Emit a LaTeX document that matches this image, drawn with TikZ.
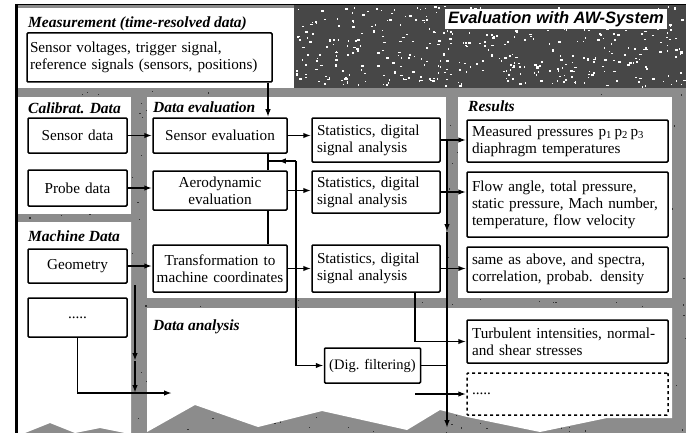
\documentclass[tikz,border=0pt]{standalone}
\usepackage{fontspec}
\setmainfont{Liberation Serif}
\newfontfamily\awsans{Liberation Sans}
\usetikzlibrary{arrows.meta,calc}
\colorlet{texmid}{black!45}
\colorlet{texdark}{black!72}
\begin{document}
\begin{tikzpicture}[x=1pt,y=-1pt,
  txt/.style={font=\fontsize{15.2}{17}\selectfont},
  box/.style={draw,line width=1.5pt,rounded corners=1pt,inner xsep=5pt,inner ysep=2pt,txt,fill=white},
  paneltitle/.style={anchor=west,inner sep=0pt,font=\fontsize{15.5}{17}\selectfont\bfseries\itshape},
  conn/.style={line width=1.6pt},
  arr/.style={conn,-{Latex[length=8pt,width=5.5pt]}}
]
\useasboundingbox (0,0) rectangle (687,433);
% textured background
\fill[texmid] (15,4) rectangle (686,433);
\fill[texdark] (294,4) rectangle (686,88);
\pgfmathsetseed{4711}
\foreach \i in {1,...,420}{
  \pgfmathsetmacro{\rx}{296+rnd*388}
  \pgfmathsetmacro{\ry}{6+rnd*80}
  \pgfmathsetmacro{\rw}{0.8+rnd*2.2}
  \fill[white] (\rx,\ry) rectangle ++(\rw,{0.8+rnd*1.6});
}
\foreach \i in {1,...,500}{
  \pgfmathsetmacro{\rx}{15+rnd*671}
  \pgfmathsetmacro{\ry}{88+rnd*345}
  \fill[black!80] (\rx,\ry) rectangle ++(1.2,1.2);
}
% white panels
\fill[white] (18,8) rectangle (294,88);
\fill[white] (18,97) rectangle (131,214);
\fill[white] (18,222) -- (131,222) -- (131,433) -- (125,433) -- (100,428) -- (75,433) -- (50,423) -- (25,433) -- (18,433) -- cycle;
\fill[white] (147,97) rectangle (446,298);
\fill[white] (458,97) rectangle (672,298);
\fill[white] (147,308) -- (672,308) -- (672,418) -- (607,418) -- (540,432) -- (467,417) -- (440,410) -- (407,430) -- (322,411) -- (258,427) -- (195,405) -- (147,432) -- cycle;
% outer borders
\draw[line width=3pt] (16.5,4) -- (16.5,433);
\draw[line width=1.2pt] (15,4.5) -- (686,4.5);

% panel titles
\node[paneltitle] (tmeas) at (28,24) {Measurement (time-resolved data)};
\node[paneltitle] (tcal) at (28,108) {Calibrat. Data};
\node[paneltitle] (teval) at (153,107) {Data evaluation};
\node[paneltitle] (tres) at (468,106) {Results};
\node[paneltitle] (tmach) at (28,236) {Machine Data};
\node[paneltitle] (tana) at (153,327) {Data analysis};
\node[fill=white,inner xsep=3pt,inner ysep=2pt,font=\fontsize{16.5}{18}\selectfont\awsans\bfseries\itshape] (taw) at (556,19) {Evaluation with AW-System};

% boxes
\node[box,inner xsep=3pt,text width=239pt,minimum height=49pt,align=left] (meas) at (149.5,57.5) {Sensor voltages, trigger signal,\\reference signals (sensors, positions)};
\node[box,text width=89pt,minimum height=35pt,align=center] (sdata) at (77.5,135.5) {Sensor data};
\node[box,text width=89pt,minimum height=36pt,align=center] (pdata) at (77.5,188) {Probe data};
\node[box,text width=89pt,minimum height=34pt,align=center] (geom) at (77.5,266) {Geometry};
\node[box,text width=89pt,minimum height=39pt,align=center] (dotsA) at (77.5,317.5) {.....};
\node[box,text width=124pt,minimum height=35pt,align=center] (seval) at (220,135.5) {Sensor evaluation};
\node[box,text width=124pt,minimum height=39pt,align=center] (aero) at (220,190.5) {Aerodynamic\\evaluation};
\node[box,inner xsep=1pt,text width=132pt,minimum height=47pt,align=center] (trans) at (220,268.5) {Transformation to\\machine coordinates};
\node[box,text width=118pt,minimum height=44pt,align=left] (statA) at (376,140) {Statistics, digital\\signal analysis};
\node[box,text width=118pt,minimum height=42pt,align=left] (statB) at (376,192) {Statistics, digital\\signal analysis};
\node[box,text width=118pt,minimum height=47pt,align=left] (statC) at (376,268.5) {Statistics, digital\\signal analysis};
\node[box,text width=191pt,minimum height=42pt,align=left] (resA) at (567.5,141) {Measured pressures p\textsubscript{1}\,p\textsubscript{2}\,p\textsubscript{3}\\diaphragm temperatures};
\node[box,text width=191pt,minimum height=65pt,align=left] (resB) at (567.5,204.5) {Flow angle, total pressure,\\static pressure, Mach number,\\temperature, flow velocity};
\node[box,text width=191pt,minimum height=45pt,align=left] (resC) at (567.5,269.5) {same as above, and spectra,\\correlation, probab. density};
\node[box,text width=191pt,minimum height=43pt,align=left] (turb) at (567.5,341.5) {Turbulent intensities, normal-\\and shear stresses};
\node[box,dashed,text width=191pt,minimum height=42pt,align=left] (dotsB) at (567.5,394) {.....};
\node[box,inner xsep=1pt,minimum width=96pt,minimum height=35pt,font=\fontsize{14.5}{16}\selectfont] (dig) at (372.5,365.5) {(Dig. filtering)};

% bus coordinates
\coordinate (busA) at (268,0);
\coordinate (busB) at (296,0);
\coordinate (busC) at (415,0);
\coordinate (busD) at (447,0);
\coordinate (jA) at (268,161);
\coordinate (jB) at (296,161);
\coordinate (dMid) at (447,232);
\coordinate (dEnd) at (447,428);
\coordinate (sA) at (415,394);
\coordinate (lEnd) at (172,393);
\coordinate (eA) at (135,285);
\coordinate (eB) at (135,361);
\coordinate (eC) at (135,393);

% connectors
\draw[arr] (meas.south -| busA) -- (seval.north -| busA);
\draw[arr] (sdata.east) -- (seval.west);
\draw[arr] (pdata.east) -- (pdata.east -| aero.west);
\draw[arr] (geom.east) -- (geom.east -| trans.west);
\draw[arr] (seval.east) -- (seval.east -| statA.west);
\draw[arr] (aero.east) -- (aero.east -| statB.west);
\draw[arr] (trans.east) -- (statC.west);
\draw[arr] (statA.east) -- (statA.east -| resA.west);
\draw[arr] (statB.east) -- (statB.east -| resB.west);
\draw[arr] (statC.east) -- (statC.east -| resC.west);
\draw[conn] (seval.south -| busA) -- (aero.north -| busA);
\draw[conn] (aero.south -| busA) -- (trans.north -| busA);
\draw[conn] (jA) -- (jB);
\draw[arr] (jB) -- ($(jA)!0.35!(jB)$);
\draw[arr] (jB) |- (dig.west);
\draw[arr] (statC.south -| busC) |- (turb.west);
\draw[conn] (dig.east) -- (dig.east -| busD);
\draw[arr] (statA.east -| busD) -- (dMid);
\draw[arr] (dMid) -- (dEnd);
\draw[arr] (sA) -- (sA -| dotsB.west);
\draw[arr] (dotsA.south) |- (lEnd);
\draw[arr] (eA) -- (eB);
\draw[arr] (eB) -- (eC);
\end{tikzpicture}
\end{document}
